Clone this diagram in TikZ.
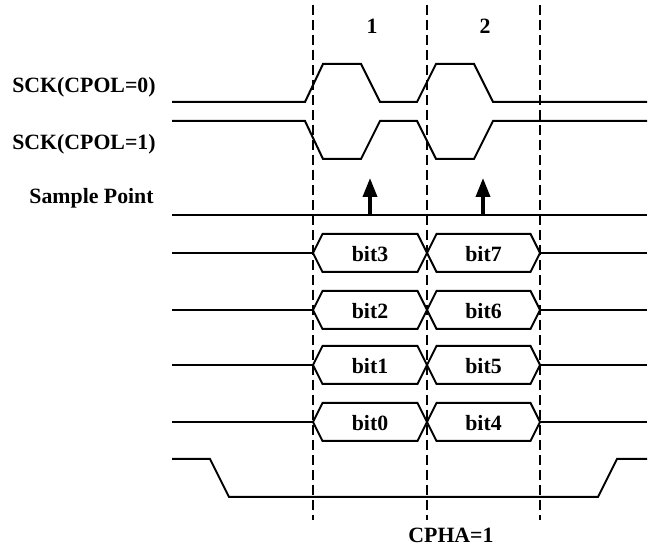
\documentclass[tikz,border=0pt]{standalone}
\usepackage{fontspec}
\setmainfont{Liberation Serif}
\usetikzlibrary{arrows.meta}

\begin{document}
\begin{tikzpicture}[
    x=0.5pt, y=-0.5pt,
    >=Stealth,
    font=\fontsize{10.9}{12}\selectfont\bfseries,
    wave/.style={
        line width=1pt
    },
    guide/.style={
        line width=0.9pt,
        dash pattern=on 5pt off 2.5pt
    },
    sample/.style={
        line width=1.8pt,
        -{Triangle[length=9.5pt,width=7pt]}
    },
    siglabel/.style={
        anchor=base east,
        inner sep=0pt
    },
    bitlabel/.style={
        anchor=base,
        inner sep=0pt
    }
]

\useasboundingbox (0,0) rectangle (648,549);


\draw[guide] (313,5) -- (313,520);
\draw[guide] (427,5) -- (427,520);
\draw[guide] (540,5) -- (540,520);

\node[bitlabel] (n1) at (372,34) {1};
\node[bitlabel] (n2) at (485,34) {2};


\node[siglabel] (lcpol0) at (156,93) {SCK(CPOL=0)};
\node[siglabel] (lcpol1) at (156,150) {SCK(CPOL=1)};
\node[siglabel] (lsample) at (154,204) {Sample Point};

\draw[wave] (172,102) -- (305,102) -- (323,64) -- (361,64) -- (380,102)
    -- (417,102) -- (436,64) -- (474,64) -- (493,102) -- (647,102);
\draw[wave] (172,121) -- (305,121) -- (323,159) -- (361,159) -- (380,121)
    -- (417,121) -- (436,159) -- (474,159) -- (493,121) -- (647,121);


\draw[wave] (172,215) -- (647,215);
\coordinate (s1) at (370,215);
\coordinate (t1) at (370,178);
\coordinate (s2) at (483,215);
\coordinate (t2) at (483,178);
\draw[sample] (s1) -- (t1);
\draw[sample] (s2) -- (t2);


\draw[wave] (172,253) -- (313,253);
\draw[wave] (313,253) -- (322.5,234) -- (417.5,234) -- (427,253) -- (417.5,272) -- (322.5,272) -- cycle;
\draw[wave] (427,253) -- (436.5,234) -- (530.5,234) -- (540,253) -- (530.5,272) -- (436.5,272) -- cycle;
\draw[wave] (540,253) -- (647,253);
\node[bitlabel] (b3) at (370,262) {bit3};
\node[bitlabel] (b7) at (483.5,262) {bit7};

\draw[wave] (172,310) -- (313,310);
\draw[wave] (313,310) -- (322.5,291) -- (417.5,291) -- (427,310) -- (417.5,329) -- (322.5,329) -- cycle;
\draw[wave] (427,310) -- (436.5,291) -- (530.5,291) -- (540,310) -- (530.5,329) -- (436.5,329) -- cycle;
\draw[wave] (540,310) -- (647,310);
\node[bitlabel] (b2) at (370,319) {bit2};
\node[bitlabel] (b6) at (483.5,319) {bit6};

\draw[wave] (172,365) -- (313,365);
\draw[wave] (313,365) -- (322.5,346) -- (417.5,346) -- (427,365) -- (417.5,384) -- (322.5,384) -- cycle;
\draw[wave] (427,365) -- (436.5,346) -- (530.5,346) -- (540,365) -- (530.5,384) -- (436.5,384) -- cycle;
\draw[wave] (540,365) -- (647,365);
\node[bitlabel] (b1) at (370,374) {bit1};
\node[bitlabel] (b5) at (483.5,374) {bit5};

\draw[wave] (172,422) -- (313,422);
\draw[wave] (313,422) -- (322.5,403) -- (417.5,403) -- (427,422) -- (417.5,441) -- (322.5,441) -- cycle;
\draw[wave] (427,422) -- (436.5,403) -- (530.5,403) -- (540,422) -- (530.5,441) -- (436.5,441) -- cycle;
\draw[wave] (540,422) -- (647,422);
\node[bitlabel] (b0) at (370,431) {bit0};
\node[bitlabel] (b4) at (483.5,431) {bit4};


\draw[wave] (172,459) -- (210,459) -- (229,497) -- (598,497) -- (617,459) -- (647,459);

\node[bitlabel] (cpha) at (451,543) {CPHA=1};

\end{tikzpicture}
\end{document}
